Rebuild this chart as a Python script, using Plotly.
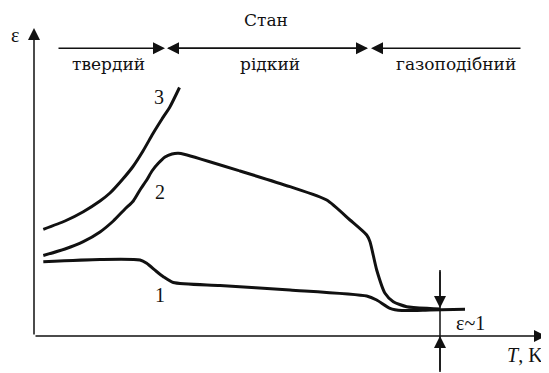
import plotly.graph_objects as go

# Schematic data (arbitrary units: T along x, epsilon along y)
curve1_T = [9.3, 66, 106, 112.7, 122, 129.3, 139.3, 186, 256, 332.7, 342.7, 356, 368, 396, 431]
curve1_eps = [74.3, 76.5, 76, 72.7, 65, 59.3, 53.5, 50.5, 46, 40, 36, 27.7, 25.5, 26, 26.7]

curve2_T = [9.3, 31, 49.3, 66, 79.3, 91, 99.3, 106, 112.7, 118, 124.3, 131, 138, 144.3, 151, 206, 256,
            292.7, 316, 332.7, 336, 342.7, 351, 359.3, 372.7, 396, 406]
curve2_eps = [80.5, 87, 94.3, 104, 115, 127, 135, 146, 156, 165, 172.7, 179, 182, 182.7, 181.5, 165, 149.3,
              136, 116, 101, 94.3, 66, 42.7, 34.3, 29.3, 27.5, 27]

curve3_T = [9.3, 31, 49.3, 66, 76, 88, 99, 109, 119, 128, 136, 145.5]
curve3_eps = [106.7, 115, 124.3, 135, 143, 156, 169.5, 185, 202.5, 217, 229.3, 248.5]

curve_labels = ["1", "2", "3"]
curve_label_T = [126, 125.5, 125]
curve_label_eps = [41, 144.5, 239.5]

state_title = "Стан"
state_names = ["твердий", "рідкий", "газоподібний"]
state_name_T = [74, 236, 421.5]
state_bounds = [23, 131, 133, 334, 337, 488]  # arrow extents
state_level = 287.7

eps_one_T = 406
eps_one_level = 27

FONT = "Liberation Serif"
CYR_FONT = "DejaVu Serif"
INK = "#111111"

fig = go.Figure()
for xs, ys in [(curve1_T, curve1_eps), (curve2_T, curve2_eps), (curve3_T, curve3_eps)]:
    fig.add_trace(go.Scatter(x=xs, y=ys, mode="lines",
                             line=dict(color=INK, width=3, shape="spline", smoothing=0.6),
                             hoverinfo="skip", showlegend=False))

ann = []

def arrow(x_tip, y_tip, x_tail, y_tail, width=1.5):
    ann.append(dict(x=x_tip, y=y_tip, ax=x_tail, ay=y_tail, xref="x", yref="y",
                    axref="x", ayref="y", text="", showarrow=True, arrowhead=2,
                    arrowsize=1.6, arrowwidth=width, arrowcolor=INK, standoff=0, startstandoff=0))

# axes
arrow(0, 308, 0, 0)
arrow(512, 0, 0, 0)
# state arrows
arrow(state_bounds[1], state_level, state_bounds[0], state_level)
arrow(state_bounds[2], state_level, state_bounds[3], state_level)
arrow(state_bounds[3], state_level, state_bounds[2], state_level)
arrow(state_bounds[4], state_level, state_bounds[5], state_level)
# epsilon ~ 1 marker
fig.add_shape(type="line", x0=eps_one_T, x1=eps_one_T, y0=-36, y1=66, xref="x", yref="y",
              line=dict(color=INK, width=1.5))
arrow(eps_one_T, eps_one_level + 1, eps_one_T, 66)
arrow(eps_one_T, 0, eps_one_T, -36)

def text(t, x, y, size=20, family=FONT):
    ann.append(dict(x=x, y=y, xref="x", yref="y", text=t, showarrow=False,
                    font=dict(family=family, size=size, color=INK), xanchor="center", yanchor="middle"))

for lab, x, y in zip(curve_labels, curve_label_T, curve_label_eps):
    text(lab, x, y)
text(state_title, 232, 316, size=17, family=CYR_FONT)
for lab, x in zip(state_names, state_name_T):
    text(lab, x, 272, size=17, family=CYR_FONT)
text("ε", -19, 301)
text("ε~1", 436, 13)
text("<i>T</i>, K", 491, -19)

# the page body adds an 8px offset; ranges compensate so content lands where intended
fig.update_layout(
    width=549, height=373, margin=dict(l=0, r=0, t=0, b=0),
    paper_bgcolor="white", plot_bgcolor="white", annotations=ann,
    xaxis=dict(range=[-26, 523], visible=False, fixedrange=True),
    yaxis=dict(range=[-45, 328], visible=False, fixedrange=True),
)
fig.write_html("out.html")
